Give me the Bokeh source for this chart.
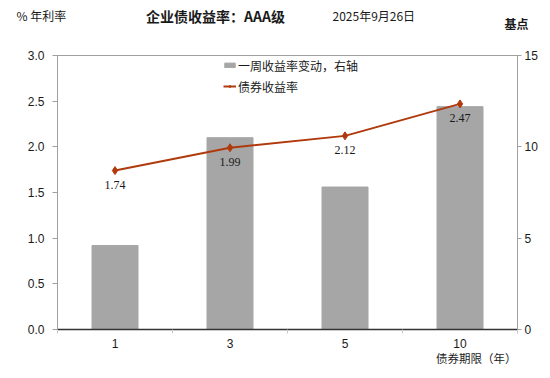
from bokeh.plotting import figure
from bokeh.models import (ColumnDataSource, Range1d, LinearAxis, FixedTicker,
                          Label, LabelSet, Legend, NumeralTickFormatter)
from bokeh.embed import file_html
from bokeh.resources import INLINE

# ---- data ----
categories = ["1", "3", "5", "10"]
yield_rate = [1.74, 1.99, 2.12, 2.47]          # 债券收益率 (%)
weekly_change = [4.6, 10.5, 7.8, 12.2]         # 一周收益率变动 (基点, right axis)
rate_labels = ["1.74", "1.99", "2.12", "2.47"]
left_ticks = [0.0, 0.5, 1.0, 1.5, 2.0, 2.5, 3.0]
right_ticks = [0, 5, 10, 15]

CJK = "Noto Sans CJK SC"
NUM = "Liberation Sans"
BAR_COLOR = "#a6a6a6"
LINE_COLOR = "#b03a0c"
TXT = "#1a1a1a"

xs = list(range(len(categories)))
src = ColumnDataSource(dict(x=xs, rate=yield_rate, chg=weekly_change, lab=rate_labels))

p = figure(width=550, height=378, output_backend="svg", toolbar_location=None,
           x_range=Range1d(-0.5, len(categories) - 0.5), y_range=Range1d(0, 3),
           min_border_left=0, min_border_right=33, min_border_top=55, min_border_bottom=49)
p.extra_y_ranges = {"bp": Range1d(0, 15)}

p.xgrid.visible = False
p.ygrid.visible = False
p.outline_line_color = "#a0a0a0"
p.background_fill_color = "white"
p.border_fill_color = "white"

bars = p.vbar(x="x", top="chg", width=0.4, source=src, y_range_name="bp",
              fill_color=BAR_COLOR, line_color=BAR_COLOR)
line = p.line(x="x", y="rate", source=src, line_color=LINE_COLOR, line_width=2)
marks = p.scatter(x="x", y="rate", source=src, marker="diamond", size=8,
                  fill_color=LINE_COLOR, line_color=LINE_COLOR)

labels = LabelSet(x="x", y="rate", text="lab", source=src, y_offset=-14,
                  text_align="center", text_baseline="middle",
                  text_font=NUM, text_font_size="12px", text_color=TXT)
p.add_layout(labels)

# x axis
xa = p.xaxis[0]
xa.ticker = FixedTicker(ticks=xs, minor_ticks=[i - 0.5 for i in range(len(categories) + 1)])
xa.major_label_overrides = {i: c for i, c in enumerate(categories)}
xa.major_tick_line_color = None
xa.major_tick_out = 0
xa.major_tick_in = 0
xa.minor_tick_out = 4
xa.minor_tick_in = 0
xa.minor_tick_line_color = "#c8c8c8"
xa.axis_line_color = "#333333"
xa.axis_line_width = 1.5
xa.major_label_standoff = 5
xa.major_label_text_font = NUM
xa.major_label_text_font_size = "12px"
xa.major_label_text_color = TXT

# left axis
ya = p.yaxis[0]
ya.ticker = FixedTicker(ticks=left_ticks)
ya.formatter = NumeralTickFormatter(format="0.0")
ya.axis_line_color = "#a0a0a0"
ya.major_tick_line_color = "#a0a0a0"
ya.major_tick_out = 5
ya.major_tick_in = 0
ya.minor_tick_line_color = None
ya.major_label_standoff = 8
ya.major_label_text_font = NUM
ya.major_label_text_font_size = "12px"
ya.major_label_text_color = TXT

# right axis
ra = LinearAxis(y_range_name="bp", ticker=FixedTicker(ticks=right_ticks))
ra.axis_line_color = "#a0a0a0"
ra.major_tick_line_color = "#a0a0a0"
ra.major_tick_out = 4
ra.major_tick_in = 0
ra.minor_tick_line_color = None
ra.major_label_standoff = 3
ra.major_label_text_font = NUM
ra.major_label_text_font_size = "12px"
ra.major_label_text_color = TXT
p.add_layout(ra, "right")

# legend
legend = Legend(items=[("一周收益率变动，右轴", [bars]), ("债券收益率", [line, marks])],
                location=(166, 233), orientation="vertical",
                border_line_color=None, background_fill_alpha=0,
                padding=0, margin=0, spacing=1,
                glyph_width=13, glyph_height=6, label_height=20, label_standoff=2,
                label_text_font=CJK, label_text_font_size="12px", label_text_color=TXT)
p.add_layout(legend, "center")

# texts outside the frame live in side panels (panels stack outward from the frame)
def side_text(side, text, x, y, align="left", size="12px", style="normal"):
    p.add_layout(Label(x=x, y=y, x_units="screen", y_units="screen", text=text,
                       text_align=align, text_baseline="middle", text_font=CJK,
                       text_font_size=size, text_font_style=style, text_color=TXT), side)

side_text("above", "% 年利率", -41, 40)
side_text("above", "2025年9月26日", 275, 23)
side_text("above", "企业债收益率：AAA级", 158, 6, align="center", size="14px", style="bold")
side_text("below", "债券期限（年）", 459, 9, align="right", size="11.5px")
side_text("left", "基点", 528, 306, align="right", style="bold")

open("out.html", "w").write(file_html(p, INLINE))
